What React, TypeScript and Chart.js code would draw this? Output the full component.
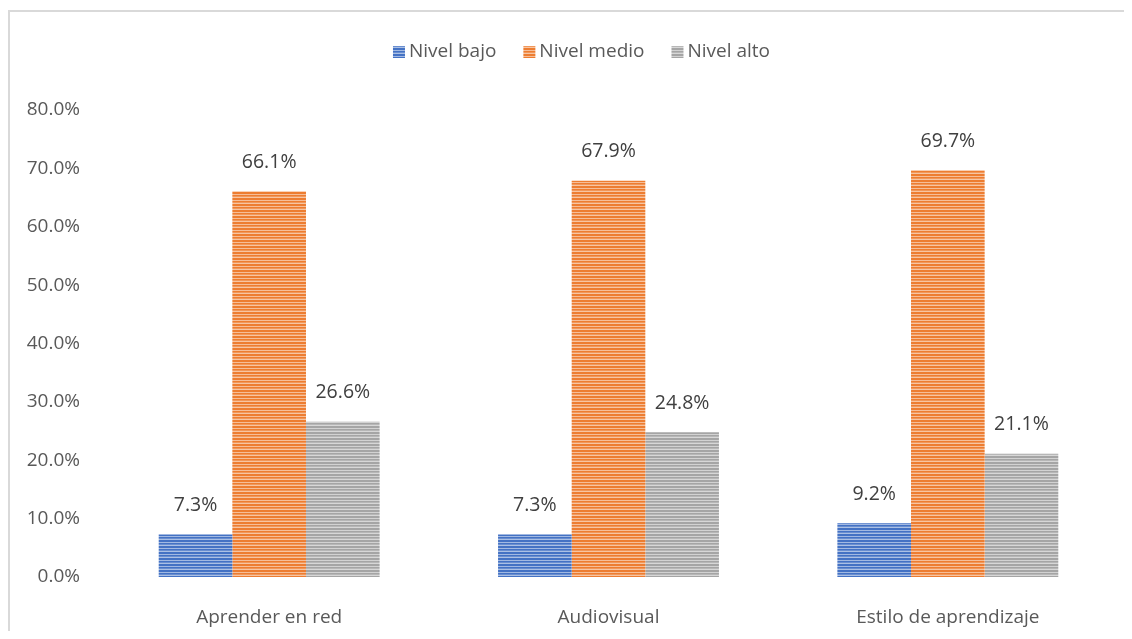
import React, { useEffect, useRef } from "react";
import { Chart, registerables } from "chart.js";

Chart.register(...registerables);

const categories = ["Aprender en red", "Audiovisual", "Estilo de aprendizaje"];
const seriesNames = ["Nivel bajo", "Nivel medio", "Nivel alto"];
const nivelBajo = [7.3, 7.3, 9.2];
const nivelMedio = [66.1, 67.9, 69.7];
const nivelAlto = [26.6, 24.8, 21.1];
const yTicks = [0, 10, 20, 30, 40, 50, 60, 70, 80];

const baseColors = ["#4472C4", "#ED7D31", "#A5A5A5"];
const FONT = "'Open Sans', sans-serif";

function lighten(hex: string, amt: number) {
  const n = parseInt(hex.slice(1), 16);
  const r = (n >> 16) & 255, g = (n >> 8) & 255, b = n & 255;
  const f = (c: number) => Math.round(c + (255 - c) * amt);
  return `rgb(${f(r)},${f(g)},${f(b)})`;
}

function makePattern(hex: string): CanvasPattern | string {
  const c = document.createElement("canvas");
  c.width = 4;
  c.height = 6;
  const ctx = c.getContext("2d");
  if (!ctx) return hex;
  const rows = [hex, hex, lighten(hex, 0.5), hex, lighten(hex, 0.2), lighten(hex, 0.55)];
  rows.forEach((col, i) => {
    ctx.fillStyle = col;
    ctx.fillRect(0, i, 4, 1);
  });
  return ctx.createPattern(c, "repeat") || hex;
}

const dataLabelPlugin = {
  id: "dataLabels",
  afterDatasetsDraw(chart: any) {
    const ctx = chart.ctx;
    ctx.save();
    ctx.font = `19.5px ${FONT}`;
    ctx.fillStyle = "#404040";
    ctx.textAlign = "center";
    ctx.textBaseline = "middle";
    chart.data.datasets.forEach((ds: any, di: number) => {
      const meta = chart.getDatasetMeta(di);
      meta.data.forEach((el: any, i: number) => {
        ctx.fillText(ds.data[i].toFixed(1) + "%", el.x, el.y - 29);
      });
    });
    ctx.restore();
  },
};

const legendPlugin = {
  id: "customLegend",
  afterDraw(chart: any) {
    const ctx = chart.ctx;
    ctx.save();
    ctx.font = `19px ${FONT}`;
    ctx.textBaseline = "middle";
    const box = 12, gapText = 4, gapItem = 27;
    const items = chart.data.datasets.map((ds: any) => ({
      label: ds.label,
      fill: ds.backgroundColor,
      w: ctx.measureText(ds.label).width,
    }));
    const total = items.reduce((s: number, it: any) => s + box + gapText + it.w, 0) + gapItem * (items.length - 1);
    let x = 571.5 - total / 2;
    const y = 40;
    items.forEach((it: any) => {
      ctx.fillStyle = it.fill;
      ctx.fillRect(x, y - box / 2, box, box);
      x += box + gapText;
      ctx.fillStyle = "#595959";
      ctx.textAlign = "left";
      ctx.fillText(it.label, x, y);
      x += it.w + gapItem;
    });
    ctx.restore();
  },
};

export default function App() {
  const ref = useRef<HTMLCanvasElement>(null);

  useEffect(() => {
    document.body.style.overflow = "hidden";
    if (!ref.current) return;
    const patterns = baseColors.map(makePattern);
    const chart = new Chart(ref.current, {
      type: "bar",
      data: {
        labels: categories,
        datasets: [
          { label: seriesNames[0], data: nivelBajo, backgroundColor: patterns[0] as any },
          { label: seriesNames[1], data: nivelMedio, backgroundColor: patterns[1] as any },
          { label: seriesNames[2], data: nivelAlto, backgroundColor: patterns[2] as any },
        ],
      },
      options: {
        animation: false,
        responsive: false,
        layout: { padding: { top: 98, right: 6.5, bottom: 0, left: 0 } },
        datasets: { bar: { categoryPercentage: 0.651, barPercentage: 1.0, borderWidth: 0 } },
        plugins: { legend: { display: false }, tooltip: { enabled: false } },
        scales: {
          x: {
            grid: { display: false },
            border: { display: false },
            ticks: { color: "#595959", font: { family: FONT, size: 19 }, padding: 21 },
            afterFit: (s: any) => { s.height = 54; },
          },
          y: {
            min: 0,
            max: 80,
            afterBuildTicks: (s: any) => { s.ticks = yTicks.map((v) => ({ value: v })); },
            grid: { display: false },
            border: { display: false },
            ticks: {
              color: "#595959",
              font: { family: FONT, size: 19 },
              padding: 11.5,
              callback: (v: any) => Number(v).toFixed(1) + "%",
            },
            afterFit: (s: any) => { s.width = 89.5; },
          },
        },
      },
      plugins: [dataLabelPlugin, legendPlugin],
    });
    return () => chart.destroy();
  }, []);

  return (
    <div
      style={{
        marginTop: 2,
        marginRight: -8,
        borderTop: "2px solid #d9d9d9",
        borderLeft: "2px solid #d9d9d9",
        background: "#fff",
      }}
    >
      <canvas ref={ref} width={1114} height={619} style={{ display: "block" }} />
    </div>
  );
}
